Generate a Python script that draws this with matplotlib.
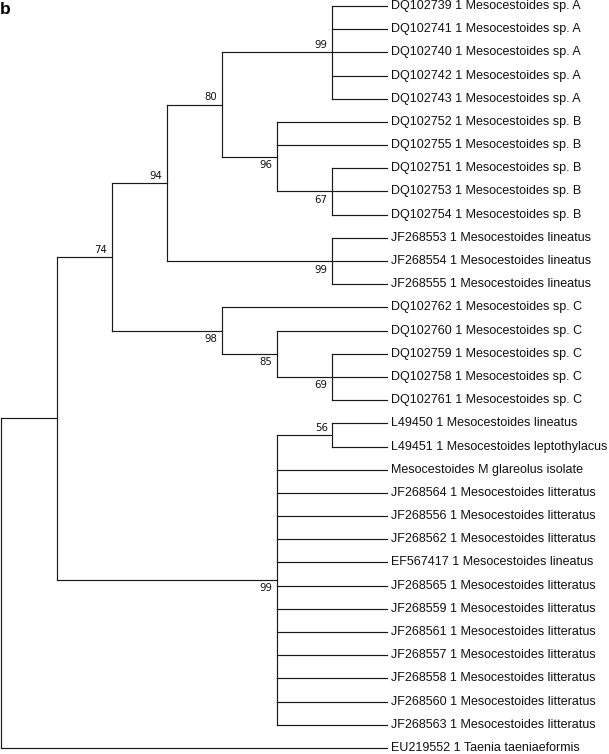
import matplotlib
matplotlib.use("Agg")
import matplotlib.pyplot as plt

# Tip labels, top to bottom
leaf_names = [
    "DQ102739 1 Mesocestoides sp. A",
    "DQ102741 1 Mesocestoides sp. A",
    "DQ102740 1 Mesocestoides sp. A",
    "DQ102742 1 Mesocestoides sp. A",
    "DQ102743 1 Mesocestoides sp. A",
    "DQ102752 1 Mesocestoides sp. B",
    "DQ102755 1 Mesocestoides sp. B",
    "DQ102751 1 Mesocestoides sp. B",
    "DQ102753 1 Mesocestoides sp. B",
    "DQ102754 1 Mesocestoides sp. B",
    "JF268553 1 Mesocestoides lineatus",
    "JF268554 1 Mesocestoides lineatus",
    "JF268555 1 Mesocestoides lineatus",
    "DQ102762 1 Mesocestoides sp. C",
    "DQ102760 1 Mesocestoides sp. C",
    "DQ102759 1 Mesocestoides sp. C",
    "DQ102758 1 Mesocestoides sp. C",
    "DQ102761 1 Mesocestoides sp. C",
    "L49450 1 Mesocestoides lineatus",
    "L49451 1 Mesocestoides leptothylacus",
    "Mesocestoides M glareolus isolate",
    "JF268564 1 Mesocestoides litteratus",
    "JF268556 1 Mesocestoides litteratus",
    "JF268562 1 Mesocestoides litteratus",
    "EF567417 1 Mesocestoides lineatus",
    "JF268565 1 Mesocestoides litteratus",
    "JF268559 1 Mesocestoides litteratus",
    "JF268561 1 Mesocestoides litteratus",
    "JF268557 1 Mesocestoides litteratus",
    "JF268558 1 Mesocestoides litteratus",
    "JF268560 1 Mesocestoides litteratus",
    "JF268563 1 Mesocestoides litteratus",
    "EU219552 1 Taenia taeniaeformis",
]

# Topology: (bootstrap, children); ints are leaf indices
clade_spA = ("99", [0, 1, 2, 3, 4])
clade_spB = ("96", [5, 6, ("67", [7, 8, 9])])
clade_lin = ("99", [10, 11, 12])
clade_spC = ("98", [13, ("85", [14, ("69", [15, 16, 17])])])
clade_lit = ("99", [("56", [18, 19])] + list(range(20, 32)))
tree = ("", [("", [("74", [("94", [("80", [clade_spA, clade_spB]), clade_lin]),
                           clade_spC]),
                   clade_lit]),
             32])

segments = []
supports = []


def layout(node):
    # returns (x, y, height); tips aligned at x = 0, x = -height
    if isinstance(node, int):
        return 0.0, float(node), 0
    label, children = node
    placed = [layout(c) for c in children]
    h = max(p[2] for p in placed) + 1
    x = -float(h)
    y = (placed[0][1] + placed[-1][1]) / 2
    segments.append(((x, x), (placed[0][1], placed[-1][1])))
    for i, (cx, cy, ch) in enumerate(placed):
        segments.append(((x, cx), (cy, cy)))
        if not isinstance(children[i], int) and children[i][0]:
            above = cy <= y
            supports.append((cx, cy, children[i][0], above))
    return x, y, h


layout(tree)

fig = plt.figure(figsize=(6.09, 7.54), dpi=100)
ax = fig.add_axes([0, 0, 1, 1])
ax.set_xlim(-7.027, 4.032)
ax.set_ylim(32.26, -0.259)
ax.axis("off")

for xs, ys in segments:
    ax.plot(xs, ys, color="#1a1a1a", lw=0.85, solid_capstyle="projecting")

for i, name in enumerate(leaf_names):
    ax.annotate(name, (0, i), xytext=(3, 0), textcoords="offset points",
                va="center", ha="left", fontsize=9.0, family="Liberation Sans",
                color="#111111")

for x, y, lab, above in supports:
    ax.annotate(lab, (x, y), xytext=(-3, 1.5 if above else -2.5),
                textcoords="offset points", ha="right",
                va="bottom" if above else "top",
                fontsize=7.3, family="DejaVu Sans", color="#111111")

fig.text(0.0, 0.998, "b", fontsize=12.5, fontweight="bold",
         family="Liberation Sans", ha="left", va="top")

fig.savefig("out.png", dpi=100)
